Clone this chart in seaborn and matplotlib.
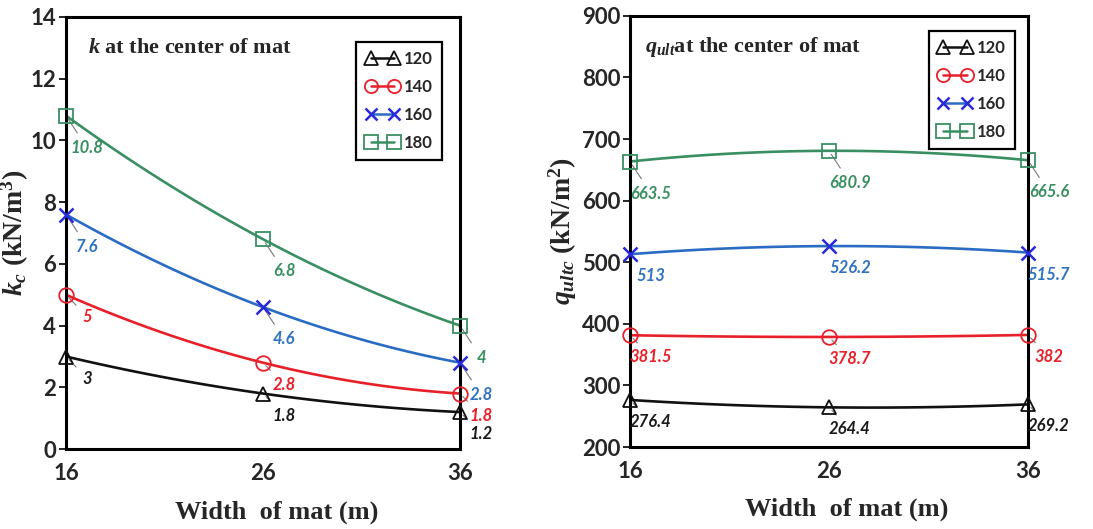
import numpy as np
import pandas as pd
import matplotlib
matplotlib.use("Agg")
import matplotlib.pyplot as plt
from matplotlib.lines import Line2D
import seaborn as sns

# ---- data ----
widths = [16, 26, 36]
series_names = ["120", "140", "160", "180"]
k_120 = [3.0, 1.8, 1.2]
k_140 = [5.0, 2.8, 1.8]
k_160 = [7.6, 4.6, 2.8]
k_180 = [10.8, 6.8, 4.0]
q_120 = [276.4, 264.4, 269.2]
q_140 = [381.5, 378.7, 382.0]
q_160 = [513.0, 526.2, 515.7]
q_180 = [663.5, 680.9, 665.6]
k_labels = [["3", "1.8", "1.2"], ["5", "2.8", "1.8"], ["7.6", "4.6", "2.8"], ["10.8", "6.8", "4"]]
q_labels = [["276.4", "264.4", "269.2"], ["381.5", "378.7", "382"],
            ["513", "526.2", "515.7"], ["663.5", "680.9", "665.6"]]

sns.set_theme(style="white")
plt.rcParams['font.family'] = ['Lato', 'DejaVu Sans']
plt.rcParams['mathtext.fontset'] = 'custom'
plt.rcParams['mathtext.rm'] = 'Liberation Serif:bold'
plt.rcParams['mathtext.it'] = 'Liberation Serif:bold:italic'
plt.rcParams['mathtext.bf'] = 'Liberation Serif:bold'

line_colors = ["#111111", "#e8202a", "#2a6cc4", "#3a8f62"]
marker_colors = ["#111111", "#e8202a", "#2a2ad8", "#3a8f62"]
label_colors = ["#1a1a1a", "#e8202a", "#2f72c0", "#3a8f62"]
markers = ["^", "o", "x", "s"]

fig = plt.figure(figsize=(10.93, 5.29), dpi=100)
ax1 = fig.add_axes([0.0604, 0.151, 0.3605, 0.817])
ax2 = fig.add_axes([0.5764, 0.155, 0.3641, 0.815])


def draw(ax, ys, labels, big_offset_idx, xlabel_x):
    for i, (y, lab) in enumerate(zip(ys, labels)):
        coef = np.polyfit(widths, y, 2)
        xs = np.linspace(widths[0], widths[-1], 100)
        df = pd.DataFrame({"x": xs, "y": np.polyval(coef, xs)})
        sns.lineplot(data=df, x="x", y="y", ax=ax, color=line_colors[i], lw=1.9)
        mk = markers[i]
        if mk == "x":
            ax.plot(widths, y, ls="none", marker=mk, ms=10, mew=1.8,
                    color=marker_colors[i], zorder=5, clip_on=False)
        else:
            ax.plot(widths, y, ls="none", marker=mk, ms=10.5, mew=1.3,
                    mfc="none", mec=marker_colors[i], zorder=5, clip_on=False)
        for xv, yv, t in zip(widths, y, lab):
            dy = -32 if i in big_offset_idx else -22
            ax.annotate(t, xy=(xv, yv), xytext=(21, dy), textcoords="offset pixels",
                        ha="center", va="center", fontsize=12, fontweight="bold",
                        style="italic", color=label_colors[i],
                        arrowprops=dict(arrowstyle="-", color="#777777", lw=0.8,
                                        shrinkA=3, shrinkB=3))
    ax.set_xlim(16, 36)
    ax.set_xticks(widths)
    ax.set_xticklabels([str(w) for w in widths])
    ax.set_xlabel("Width  of mat (m)", family="Liberation Serif", fontweight="bold",
                  fontsize=19, labelpad=12)
    ax.xaxis.set_label_coords(xlabel_x, -0.118)
    for s in ax.spines.values():
        s.set_linewidth(2.2)
        s.set_color("black")
    ax.tick_params(axis="x", direction="in", length=6, width=1, color="#888888",
                   labelsize=16, pad=10)
    ax.tick_params(axis="y", direction="out", length=5, width=1.2, color="black",
                   labelsize=16, pad=2, left=True)
    for t in ax.get_xticklabels() + ax.get_yticklabels():
        t.set_fontweight("bold")
    handles = []
    for i in range(4):
        if markers[i] == "x":
            h = Line2D([0], [0], color=line_colors[i], lw=1.8, marker="x", ms=9,
                       mew=1.8, mec=marker_colors[i])
        else:
            h = Line2D([0], [0], color=line_colors[i], lw=1.8, marker=markers[i], ms=9.5,
                       mew=1.3, mfc="none", mec=marker_colors[i])
        handles.append(h)
    return handles


def legend(ax, h, anchor):
    leg = ax.legend(h, series_names, loc="upper right", bbox_to_anchor=anchor,
                    numpoints=2, frameon=True, fancybox=False, borderaxespad=0,
                    handlelength=2.0, borderpad=0.55, labelspacing=0.72, handletextpad=0.3,
                    prop=dict(family="Lato", weight="bold", size=12))
    leg.get_frame().set_edgecolor("black")
    leg.get_frame().set_linewidth(1.6)
    leg.get_frame().set_alpha(1)


h = draw(ax1, [k_120, k_140, k_160, k_180], k_labels, big_offset_idx=[3, 2], xlabel_x=0.535)
ax1.set_ylim(0, 14)
ax1.set_yticks(np.arange(0, 15, 2))
for t in ax1.get_yticklabels():
    t.set_fontweight("bold")
ax1.set_ylabel(r"$k_c$ (kN/m$^3$)", family="Liberation Serif", fontweight="bold",
               fontsize=20, labelpad=0)
ax1.text(0.056, 0.928, r"$k$ at the center of mat", transform=ax1.transAxes,
         family="Liberation Serif", fontweight="bold", fontsize=16, va="center")
legend(ax1, h, (0.954, 0.942))

h = draw(ax2, [q_120, q_140, q_160, q_180], q_labels, big_offset_idx=[3], xlabel_x=0.545)
ax2.set_ylim(200, 900)
ax2.set_yticks(np.arange(200, 901, 100))
for t in ax2.get_yticklabels():
    t.set_fontweight("bold")
ax2.set_ylabel(r"$q_{ultc}$ (kN/m$^2$)", family="Liberation Serif", fontweight="bold",
               fontsize=20, labelpad=2)
ax2.text(0.038, 0.928, r"$q_{ult}$at the center of mat", transform=ax2.transAxes,
         family="Liberation Serif", fontweight="bold", fontsize=16, va="center")
legend(ax2, h, (0.967, 0.965))

fig.savefig("out.png", dpi=100)
